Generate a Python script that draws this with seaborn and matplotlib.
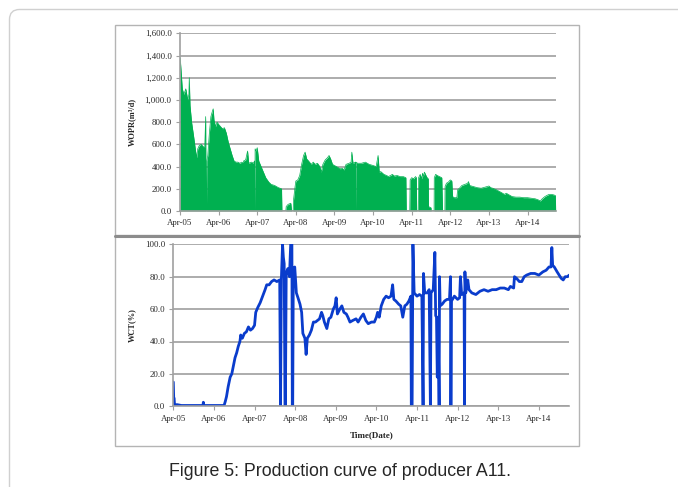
import numpy as np
import pandas as pd
import matplotlib
matplotlib.use("Agg")
import matplotlib.pyplot as plt
import seaborn as sns
from matplotlib.patches import Rectangle, FancyBboxPatch
from matplotlib.ticker import FuncFormatter, FixedLocator
from matplotlib.transforms import IdentityTransform

# ---- data: time in years since Apr-2005 ----
tick_labels = ["Apr-05", "Apr-06", "Apr-07", "Apr-08", "Apr-09",
               "Apr-10", "Apr-11", "Apr-12", "Apr-13", "Apr-14"]

wopr_t = [0.0, 0.005, 0.03, 0.06, 0.1, 0.15, 0.2, 0.23, 0.24, 0.26, 0.3, 0.35, 0.4, 0.43, 0.46,
          0.5, 0.55, 0.6, 0.64, 0.665, 0.675, 0.685, 0.695, 0.72, 0.76, 0.8, 0.84, 0.86, 0.88,
          0.92, 0.96, 1.0, 1.05, 1.1, 1.15, 1.2, 1.25, 1.3, 1.35, 1.4, 1.45, 1.5, 1.55, 1.6,
          1.635, 1.64, 1.645, 1.7, 1.75, 1.78, 1.85, 1.9, 1.93, 1.94, 1.945, 1.97, 2.0, 2.04,
          2.1, 2.16, 2.22, 2.3, 2.36, 2.45, 2.55, 2.63, 2.64, 2.74, 2.75, 2.8, 2.87, 2.89, 2.93,
          2.94, 2.98, 3.0, 3.05, 3.1, 3.15, 3.2, 3.24, 3.28, 3.33, 3.4, 3.45, 3.5, 3.56, 3.62,
          3.66, 3.7, 3.76, 3.82, 3.86, 3.9, 3.95, 4.0, 4.05, 4.1, 4.15, 4.2, 4.25, 4.3, 4.38,
          4.43, 4.45, 4.48, 4.545, 4.55, 4.555, 4.6, 4.7, 4.8, 4.9, 5.0, 5.08, 5.13, 5.16, 5.2,
          5.28, 5.35, 5.4, 5.45, 5.5, 5.55, 5.62, 5.7, 5.78, 5.85, 5.86, 5.95, 5.96, 6.0, 6.05,
          6.1, 6.12, 6.13, 6.17, 6.18, 6.22, 6.26, 6.28, 6.3, 6.33, 6.37, 6.4, 6.43, 6.435,
          6.5, 6.505, 6.58, 6.585, 6.62, 6.66, 6.72, 6.78, 6.8, 6.86, 6.865, 6.9, 6.95, 7.0,
          7.04, 7.06, 7.1, 7.17, 7.19, 7.25, 7.3, 7.38, 7.45, 7.47, 7.5, 7.6, 7.7, 7.8, 7.9,
          7.96, 8.0, 8.05, 8.1, 8.2, 8.28, 8.33, 8.4, 8.45, 8.5, 8.55, 8.6, 8.7, 8.8, 8.9, 9.0,
          9.1, 9.2, 9.28, 9.33, 9.38, 9.45, 9.5, 9.56, 9.62, 9.68, 9.72, 9.73]
wopr_v = [0, 1380, 1250, 1100, 1050, 1100, 1000, 1050, 1200, 950, 800, 680, 550, 480, 560,
          590, 600, 580, 570, 850, 0, 0, 450, 500, 700, 850, 900, 920, 820,
          760, 800, 780, 760, 740, 750, 700, 620, 560, 500, 450, 440, 440, 430, 440,
          430, 0, 450, 460, 540, 430, 440, 430, 450, 0, 560, 540, 570, 450,
          400, 350, 300, 260, 240, 230, 210, 200, 0, 0, 40, 60, 70, 0, 0,
          100, 220, 270, 280, 320, 420, 500, 530, 470, 450, 420, 440, 420, 430, 400,
          350, 420, 460, 480, 500, 470, 420, 410, 400, 390, 380, 385, 370, 420, 430,
          440, 530, 430, 440, 0, 440, 430, 430, 440, 420, 410, 400, 500, 350, 355,
          330, 320, 310, 320, 330, 315, 320, 310, 310, 300, 0, 0, 280, 300, 290,
          310, 300, 0, 0, 300, 330, 290, 340, 310, 350, 320, 300, 290, 40,
          30, 0, 0, 300, 330, 320, 310, 300, 0, 0, 220, 250, 260, 280,
          270, 130, 120, 120, 190, 210, 230, 240, 250, 265, 230, 220, 210, 205, 215,
          220, 225, 210, 205, 190, 175, 165, 150, 160, 150, 140, 130, 125, 125, 120, 120,
          115, 110, 100, 90, 110, 130, 140, 150, 150, 145, 140, 0]

wct_t = [0.0, 0.01, 0.02, 0.03, 0.1, 0.2, 0.4, 0.6, 0.73, 0.74, 0.75, 0.9, 1.1, 1.25, 1.28,
         1.31, 1.35, 1.4, 1.44, 1.48, 1.52, 1.56, 1.6, 1.64, 1.66, 1.7, 1.75, 1.8, 1.85, 1.9,
         1.95, 2.0, 2.03, 2.08, 2.14, 2.2, 2.26, 2.3, 2.36, 2.42, 2.48, 2.55, 2.62, 2.64, 2.66,
         2.69, 2.71, 2.73, 2.75, 2.76, 2.78, 2.82, 2.86, 2.89, 2.92, 2.93, 2.94, 2.955, 2.99,
         3.03, 3.07, 3.12, 3.16, 3.19, 3.24, 3.27, 3.3, 3.35, 3.4, 3.45, 3.5, 3.55, 3.6, 3.65,
         3.68, 3.72, 3.78, 3.83, 3.88, 3.94, 3.98, 4.01, 4.04, 4.1, 4.15, 4.2, 4.26, 4.3, 4.35,
         4.42, 4.5, 4.55, 4.62, 4.68, 4.74, 4.8, 4.88, 4.95, 5.0, 5.03, 5.07, 5.12, 5.18, 5.24,
         5.3, 5.36, 5.4, 5.43, 5.48, 5.55, 5.6, 5.65, 5.7, 5.75, 5.8, 5.85, 5.86, 5.88, 5.9,
         5.93, 6.0, 6.06, 6.12, 6.15, 6.16, 6.19, 6.25, 6.3, 6.33, 6.345, 6.4, 6.44, 6.46, 6.48,
         6.5, 6.52, 6.545, 6.555, 6.57, 6.62, 6.68, 6.74, 6.8, 6.825, 6.835, 6.85, 6.92, 7.0,
         7.05, 7.07, 7.1, 7.16, 7.17, 7.18, 7.2, 7.25, 7.28, 7.35, 7.45, 7.55, 7.65, 7.75, 7.85,
         7.95, 8.05, 8.15, 8.25, 8.3, 8.38, 8.4, 8.45, 8.52, 8.58, 8.64, 8.7, 8.8, 8.9, 9.0,
         9.1, 9.18, 9.25, 9.3, 9.32, 9.34, 9.38, 9.45, 9.5, 9.55, 9.6, 9.65, 9.7, 9.75]
wct_v = [15, 5, 5, 1, 1, 0.5, 0.5, 0.5, 0.5, 2.5, 0.5, 0.5, 0.5, 0.5, 3,
         6, 12, 18, 20, 25, 30, 33, 37, 40, 44, 42, 45, 46, 49, 47,
         48, 50, 58, 61, 64, 68, 72, 75, 75, 77, 78, 77, 78, 0, 78,
         100, 92, 88, 0, 0, 82, 85, 80, 100, 100, 0, 0, 85, 86,
         70, 67, 63, 58, 45, 42, 32, 42, 44, 47, 52, 52, 53, 54, 58,
         56, 52, 48, 54, 55, 60, 62, 67, 57, 60, 62, 58, 57, 55, 52,
         53, 54, 52, 55, 57, 53, 51, 52, 52, 55, 58, 55, 62, 66, 68,
         67, 68, 75, 66, 65, 63, 62, 55, 62, 63, 65, 68, 0, 0, 100,
         70, 68, 69, 68, 0, 82, 70, 70, 72, 0, 70, 72, 95, 56, 55,
         18, 55, 0, 80, 62, 63, 65, 66, 66, 80, 0, 65, 68, 66,
         67, 80, 69, 70, 0, 83, 70, 78, 72, 70, 69, 71, 72, 71, 72,
         72, 73, 73, 72, 74, 73, 80, 79, 77, 77, 80, 81, 82, 82, 81,
         83, 84, 86, 86, 98, 87, 86, 83, 81, 79, 78, 80, 80, 81]

wopr_df = pd.DataFrame({"t": wopr_t, "WOPR": wopr_v})
wct_df = pd.DataFrame({"t": wct_t, "WCT": wct_v})

sns.set_style("white")
plt.rcParams["font.family"] = ["Liberation Serif", "DejaVu Serif"]

W, H = 678, 487
fig = plt.figure(figsize=(W / 100, H / 100), dpi=100)

GREEN = "#00b050"
BLUE = "#0a3ccc"
GRID = "#a6a6a6"
SPINE = "#a0a0a0"

def px_axes(x0, x1, ytop, ybot):
    return fig.add_axes([x0 / W, 1 - ybot / H, (x1 - x0) / W, (ybot - ytop) / H])

ax1 = px_axes(180, 555.7, 33.3, 211)
ax2 = px_axes(173.3, 569.3, 244.3, 406.3)

# top: area chart
ax1.fill_between(wopr_df["t"], wopr_df["WOPR"], 0, color=GREEN, lw=0, zorder=2)
sns.lineplot(data=wopr_df, x="t", y="WOPR", ax=ax1, color=GREEN, lw=0.5,
             estimator=None, sort=False, zorder=3)
ax1.set_xlim(0, 9.73)
ax1.set_ylim(0, 1600)
ax1.set_yticks(np.arange(0, 1601, 200))
ax1.yaxis.set_major_formatter(FuncFormatter(lambda v, p: f"{v:,.1f}"))
ax1.set_ylabel("WOPR(m³/d)", fontsize=6, fontweight="bold", labelpad=6)
ax1.set_xlabel("")

# bottom: line chart
sns.lineplot(data=wct_df, x="t", y="WCT", ax=ax2, color=BLUE, lw=2.0,
             estimator=None, sort=False, zorder=3)
ax2.set_xlim(0, 9.75)
ax2.set_ylim(0, 100)
ax2.set_yticks(np.arange(0, 101, 20))
ax2.yaxis.set_major_formatter(FuncFormatter(lambda v, p: f"{v:.1f}"))
ax2.set_ylabel("WCT(%)", fontsize=6, fontweight="bold", labelpad=6)
ax2.set_xlabel("Time(Date)", fontsize=6.5, fontweight="bold", labelpad=6)

for ax in (ax1, ax2):
    ax.xaxis.set_major_locator(FixedLocator(range(len(tick_labels))))
    ax.set_xticklabels(tick_labels)
    ax.grid(axis="y", color=GRID, lw=1.3, zorder=1)
    ax.grid(axis="x", visible=False)
    ax.set_axisbelow(True)
    for s in ("top", "right"):
        ax.spines[s].set_visible(False)
    for s in ("left", "bottom"):
        ax.spines[s].set_color(SPINE)
        ax.spines[s].set_linewidth(1.2)
        ax.spines[s].set_zorder(4)
    ax.tick_params(axis="both", which="major", labelsize=6.3, length=3, width=0.8,
                   color=SPINE, pad=3, direction="out", left=True, bottom=True)
    ax.set_facecolor("white")
    ax.patch.set_alpha(0)

# panel boxes
fig.add_artist(Rectangle((115.5 / W, 1 - 235.5 / H), 463 / W, 210 / H,
                         transform=fig.transFigure, fill=False, ec="#b4b4b4", lw=1.0))
fig.add_artist(Rectangle((115.5 / W, 1 - 445.5 / H), 463 / W, 210 / H,
                         transform=fig.transFigure, fill=False, ec="#b4b4b4", lw=1.0))
fig.add_artist(plt.Line2D([115.5 / W, 578.5 / W], [1 - 235.5 / H, 1 - 235.5 / H],
                          transform=fig.transFigure, color="#8c8c8c", lw=2.2))

# outer rounded frame (pixel coordinates)
fig.add_artist(FancyBboxPatch((9.5, -40), 720, H - 9.5 + 40,
                              boxstyle="round,pad=0,rounding_size=10",
                              transform=IdentityTransform(), fill=False,
                              ec="#d0d0d0", lw=1.0))

fig.text(340 / W, 1 - 472 / H, "Figure 5: Production curve of producer A11.",
         ha="center", va="center", fontsize=12.8, family=["Liberation Sans", "DejaVu Sans"])

fig.savefig("out.png", dpi=100, facecolor="white")
